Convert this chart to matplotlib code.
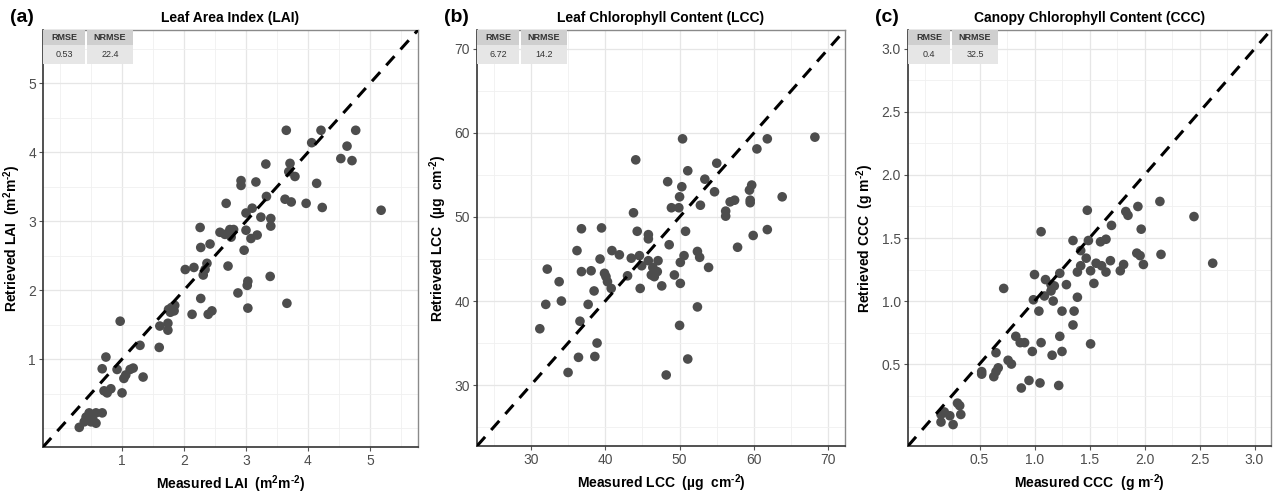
import numpy as np
import matplotlib
matplotlib.use("Agg")
import matplotlib.pyplot as plt
from matplotlib.patches import Rectangle

plt.rcParams['font.family'] = ['Liberation Sans', 'DejaVu Sans']
plt.rcParams['mathtext.fontset'] = 'custom'
plt.rcParams['mathtext.rm'] = 'Liberation Sans'
plt.rcParams['mathtext.bf'] = 'Liberation Sans:bold'
plt.rcParams['mathtext.default'] = 'bf'

# ---- LAI (m2 m-2)
lai_meas = [3.65, 4.21, 4.77, 4.06, 4.63, 4.53, 4.71, 3.32, 3.71, 3.69, 3.79, 4.14,
            2.92, 2.92, 3.16, 3.33, 3.63, 3.73, 3.97, 4.23, 5.18, 2.68, 3.10, 3.00,
            3.24, 3.40, 3.40, 2.26, 2.58, 2.66, 2.74, 2.80, 2.76, 3.00, 3.18, 3.08,
            2.97, 2.42, 2.27, 2.02, 2.16, 2.37, 2.34, 2.31, 2.71, 3.39, 3.03, 3.02,
            2.87, 2.27, 3.03, 3.66, 2.13, 2.39, 2.45, 1.75, 1.80, 1.85, 1.78, 1.84,
            1.74, 1.74, 1.61, 1.60, 1.29, 0.97, 0.74, 0.68, 0.92, 1.18, 1.13, 1.06,
            1.03, 1.34, 1.00, 0.71, 0.76, 0.82, 0.31, 0.39, 0.47, 0.58, 0.68, 0.53,
            0.58, 0.42, 0.50]
lai_ret = [4.32, 4.32, 4.32, 4.14, 4.09, 3.91, 3.88, 3.83, 3.84, 3.72, 3.65, 3.55,
           3.59, 3.52, 3.57, 3.36, 3.32, 3.28, 3.26, 3.20, 3.16, 3.26, 3.19, 3.12,
           3.06, 3.04, 2.93, 2.91, 2.84, 2.81, 2.88, 2.88, 2.77, 2.87, 2.80, 2.75,
           2.58, 2.67, 2.62, 2.30, 2.33, 2.39, 2.30, 2.22, 2.35, 2.20, 2.13, 2.07,
           1.96, 1.88, 1.74, 1.81, 1.65, 1.65, 1.70, 1.72, 1.75, 1.78, 1.68, 1.70,
           1.52, 1.42, 1.48, 1.17, 1.20, 1.55, 1.03, 0.86, 0.85, 0.87, 0.85, 0.77,
           0.72, 0.74, 0.51, 0.54, 0.51, 0.57, 0.01, 0.09, 0.22, 0.22, 0.22, 0.12,
           0.07, 0.16, 0.09]

# ---- LCC (ug cm-2)
lcc_meas = [68.2, 50.4, 61.8, 60.4, 44.1, 55.0, 51.1, 53.4, 48.4, 50.3, 59.7, 59.4,
            54.7, 63.8, 50.0, 52.8, 56.8, 57.4, 59.5, 59.5, 48.9, 49.9, 56.2, 56.2,
            43.8, 36.8, 39.5, 44.3, 45.8, 45.8, 50.8, 61.8, 59.9, 48.6, 57.8, 36.2,
            40.9, 41.9, 43.5, 44.6, 39.3, 45.8, 47.1, 50.6, 50.1, 52.4, 52.7, 44.9,
            46.4, 47.0, 46.2, 46.6, 53.9, 32.2, 36.8, 38.1, 39.9, 40.1, 40.3, 40.8,
            43.0, 49.3, 47.6, 50.1, 44.7, 33.8, 38.5, 32.0, 34.1, 37.7, 52.4, 31.2,
            36.6, 50.0, 38.9, 36.4, 38.6, 51.1, 35.0, 48.2]
lcc_ret = [59.5, 59.3, 59.3, 58.1, 56.8, 56.4, 55.5, 54.5, 54.2, 53.6, 53.8, 53.2,
           53.0, 52.4, 52.4, 51.4, 51.8, 52.0, 52.0, 51.7, 51.1, 51.1, 50.7, 50.1,
           50.5, 48.6, 48.7, 48.3, 47.9, 47.4, 48.3, 48.5, 47.8, 46.7, 46.4, 46.0,
           46.0, 45.5, 45.1, 45.4, 45.0, 44.8, 44.8, 45.4, 44.6, 45.9, 45.2, 44.2,
           44.0, 43.5, 43.1, 42.9, 44.0, 43.8, 43.5, 43.6, 43.3, 42.9, 42.3, 41.5,
           43.0, 43.1, 41.8, 42.1, 41.5, 42.3, 41.2, 39.6, 40.0, 39.6, 39.3, 36.7,
           37.6, 37.1, 35.0, 33.3, 33.4, 33.1, 31.5, 31.2]

# ---- CCC (g m-2)
ccc_meas = [2.14, 1.48, 1.83, 1.85, 1.94, 2.45, 1.70, 1.97, 1.06, 1.35, 1.49, 1.60,
            1.65, 1.42, 1.47, 1.93, 1.96, 2.15, 2.62, 1.42, 1.39, 1.51, 1.56, 1.61,
            1.65, 1.69, 1.78, 1.81, 1.99, 1.54, 1.23, 1.29, 1.00, 1.10, 1.15, 1.18,
            1.15, 1.09, 0.72, 0.99, 1.17, 1.39, 1.04, 1.25, 1.36, 1.35, 0.83, 0.87,
            0.91, 1.23, 1.06, 0.98, 1.16, 1.25, 1.51, 0.65, 0.76, 0.79, 0.52, 0.52,
            0.67, 0.65, 0.63, 0.88, 0.95, 1.05, 1.22, 0.30, 0.32, 0.33, 0.15, 0.18,
            0.23, 0.15, 0.26]
ccc_ret = [1.79, 1.72, 1.71, 1.68, 1.75, 1.67, 1.60, 1.57, 1.55, 1.48, 1.48, 1.47,
           1.49, 1.40, 1.34, 1.38, 1.36, 1.37, 1.30, 1.28, 1.23, 1.24, 1.30, 1.28,
           1.23, 1.32, 1.24, 1.29, 1.29, 1.14, 1.22, 1.13, 1.21, 1.17, 1.13, 1.12,
           1.08, 1.04, 1.10, 1.01, 1.00, 1.03, 0.92, 0.92, 0.92, 0.81, 0.72, 0.67,
           0.67, 0.72, 0.67, 0.60, 0.57, 0.60, 0.66, 0.59, 0.53, 0.50, 0.44, 0.42,
           0.47, 0.44, 0.40, 0.31, 0.37, 0.35, 0.33, 0.19, 0.17, 0.10, 0.10, 0.12,
           0.09, 0.04, 0.02]

tags = ["(a)", "(b)", "(c)"]
titles = ["Leaf Area Index (LAI)", "Leaf Chlorophyll Content (LCC)",
          "Canopy Chlorophyll Content (CCC)"]
xlabels = ["Measured LAI  (m$^{2}$m$^{\u2010 2}$)", "Measured LCC  (µg  cm$^{\u2010 2}$)",
           "Measured CCC  (g m$^{\u2010 2}$)"]
ylabels = ["Retrieved LAI  (m$^{2}$m$^{\u2010 2}$)", "Retrieved LCC  (µg  cm$^{\u2010 2}$)",
           "Retrieved CCC  (g m$^{\u2010 2}$)"]
rmse = ["0.53", "6.72", "0.4"]
nrmse = ["22.4", "14.2", "32.5"]
limits = [(0, 5.5), (25, 70), (0, 3.0)]
major = [[1, 2, 3, 4, 5], [30, 40, 50, 60, 70], [0.5, 1.0, 1.5, 2.0, 2.5, 3.0]]
minor = [[0, 0.5, 1.5, 2.5, 3.5, 4.5, 5.5], [25, 35, 45, 55, 65],
         [0, 0.25, 0.75, 1.25, 1.75, 2.25, 2.75]]
fmt = ["{:.0f}", "{:.0f}", "{:.1f}"]

data = [(lai_meas, lai_ret), (lcc_meas, lcc_ret), (ccc_meas, ccc_ret)]

W, H = 1274, 493
# axes boxes in pixels: left, top, right, bottom
boxes = [(43, 30, 418, 447), (477, 30, 845, 446), (908, 30, 1271, 446)]

fig = plt.figure(figsize=(W / 100, H / 100), dpi=100)

for i in range(3):
    l, t, r, b = boxes[i]
    ax = fig.add_axes([l / W, (H - b) / H, (r - l) / W, (b - t) / H])
    aw, ah = r - l, b - t

    lo, hi = limits[i]
    pad = (hi - lo) * 0.05
    ax.set_xlim(lo - pad, hi + pad)
    ax.set_ylim(lo - pad, hi + pad)

    ax.set_xticks(major[i])
    ax.set_yticks(major[i])
    ax.set_xticks(minor[i], minor=True)
    ax.set_yticks(minor[i], minor=True)
    ax.set_xticklabels([fmt[i].format(v) for v in major[i]])
    ax.set_yticklabels([fmt[i].format(v) for v in major[i]])
    ax.tick_params(which='major', length=3, width=0.8, color='#555555',
                   labelsize=10, labelcolor='#4d4d4d', pad=2)
    ax.tick_params(which='minor', length=0)

    ax.grid(which='major', color='#e6e6e6', lw=0.9)
    ax.grid(which='minor', color='#f0f0f0', lw=0.6)
    ax.set_axisbelow(True)

    for s in ['left', 'bottom']:
        ax.spines[s].set_color('#333333')
        ax.spines[s].set_linewidth(1.2)
    for s in ['top', 'right']:
        ax.spines[s].set_color('#8a8a8a')
        ax.spines[s].set_linewidth(1.0)

    x, y = data[i]
    ax.scatter(x, y, s=48, color='#4d4d4d', edgecolors='none', zorder=3)
    ax.axline((lo, lo), slope=1, color='black', lw=2.2, ls=(0, (4, 3)), zorder=4)

    ax.set_title(titles[i], fontsize=10, fontweight='bold', pad=6)
    ax.set_xlabel(xlabels[i], fontsize=10, fontweight='bold', labelpad=4)
    ax.set_ylabel(ylabels[i], fontsize=10, fontweight='bold', labelpad=4)

    fig.text((l - 33) / W, 1 - 17 / H, tags[i], fontsize=14, fontweight='bold',
             va='center', ha='left')

    # small stats table in the top-left corner (pixel layout)
    cells = [((0, 42), (0, 15), '#cfcfcf', 'RMSE', 'bold'),
             ((44, 90), (0, 15), '#cfcfcf', 'NRMSE', 'bold'),
             ((0, 42), (15, 34), '#e6e6e6', rmse[i], 'normal'),
             ((44, 90), (15, 34), '#e6e6e6', nrmse[i], 'normal')]
    for (x0, x1), (y0, y1), fc, txt, fw in cells:
        ax.add_patch(Rectangle((x0 / aw, 1 - y1 / ah), (x1 - x0) / aw, (y1 - y0) / ah,
                               transform=ax.transAxes, facecolor=fc, edgecolor='none',
                               zorder=5, clip_on=False))
        ax.text((x0 + x1) / 2 / aw, 1 - (y0 + y1) / 2 / ah, txt, transform=ax.transAxes,
                ha='center', va='center', fontsize=6.5, fontweight=fw,
                color='#333333', zorder=6)

plt.savefig("out.png", dpi=100)
